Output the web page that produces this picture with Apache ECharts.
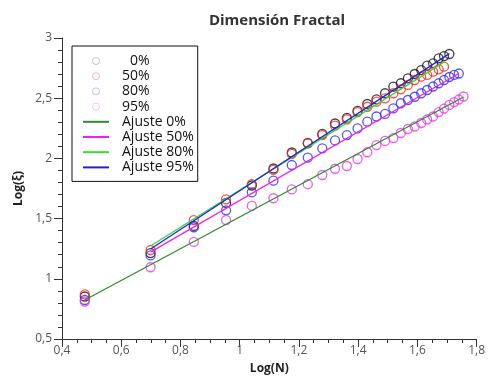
<!DOCTYPE html>
<html>
<head>
<meta charset="utf-8">
<script src="https://cdn.jsdelivr.net/npm/echarts@6/dist/echarts.min.js"></script>
<style>html,body{margin:0;padding:0;background:#fff}#c{width:488px;height:383px}</style>
</head>
<body>
<div id="c"></div>
<script>
// Log(N) positions (N = 3, 5, 7, ... 57)
const logN = [0.477,0.699,0.845,0.954,1.041,1.114,1.176,1.230,1.279,1.322,1.362,1.398,1.431,1.462,1.491,1.519,1.544,1.568,1.591,1.613,1.633,1.653,1.672,1.690,1.708,1.724,1.740,1.756];

// Log(ξ) values per series
const s0  = [0.853,1.214,1.439,1.630,1.775,1.916,2.049,2.128,2.203,2.290,2.336,2.394,2.452,2.491,2.541,2.596,2.624,2.665,2.701,2.734,2.770,2.790,2.831,2.850,2.867];
const s50 = [0.870,1.239,1.488,1.660,1.787,1.904,2.037,2.125,2.194,2.272,2.325,2.385,2.429,2.471,2.499,2.541,2.574,2.610,2.651,2.679,2.693,2.720,2.740,2.762];
const s80 = [0.824,1.194,1.428,1.569,1.717,1.815,1.945,2.007,2.084,2.149,2.194,2.250,2.305,2.348,2.369,2.416,2.458,2.485,2.512,2.541,2.568,2.597,2.624,2.651,2.676,2.693,2.705];
const s95 = [0.811,1.096,1.306,1.488,1.605,1.669,1.742,1.786,1.862,1.914,1.937,1.995,2.051,2.111,2.145,2.169,2.211,2.244,2.265,2.294,2.323,2.348,2.385,2.414,2.444,2.468,2.489,2.514];

// Fit lines (endpoints)
const fitX0  = [0.477, 1.756], fitY0  = [0.824, 2.510];
const fitX50 = [0.699, 1.740], fitY50 = [1.222, 2.705];
const fitX80 = [0.699, 1.690], fitY80 = [1.272, 2.800];
const fitX95 = [0.699, 1.708], fitY95 = [1.2475, 2.870];

// Axis ticks
const xTicks = [0.4,0.6,0.8,1.0,1.2,1.4,1.6,1.8];
const yTicks = [0.5,1.0,1.5,2.0,2.5,3.0];

const names = ['0%','50%','80%','95%','Ajuste 0%','Ajuste 50%','Ajuste 80%','Ajuste 95%'];
const legendPale = ['#b4b4b4','#f0aaaa','#b0b0d8','#f0b4f0'];

function pts(xs, ys){ return ys.map((v,i)=>[xs[i], v]); }
function fmt(v){ return String(+v.toFixed(1)).replace('.', ','); }

const FONT = "'Open Sans', 'Noto Sans', sans-serif";

function scat(name, vals, color){
  return {
    name, type:'scatter', data: pts(logN, vals), symbol:'circle', symbolSize: 9,
    itemStyle:{color:'rgba(255,255,255,0)', borderColor: color, borderWidth: 1.3},
    emphasis:{disabled:true}, z: 2
  };
}
function fit(name, xs, ys, color){
  return {
    name, type:'line', data: pts(xs, ys), symbol:'none', showSymbol:false, smooth:false,
    lineStyle:{color, width:1.3}, itemStyle:{color}, emphasis:{disabled:true}, z: 3
  };
}

const chart = echarts.init(document.getElementById('c'), null, {renderer:'canvas'});
chart.setOption({
  animation:false,
  backgroundColor:'#fff',
  title:{
    text:'Dimensión Fractal', left: 272, top: 8, textAlign:'center',
    textStyle:{fontFamily:FONT, fontSize:15, fontWeight:'bold', color:'#333'}
  },
  legend:{
    orient:'vertical', left:72, top:46,
    padding:[8,4,7,10],
    itemWidth:26, itemHeight:7, itemGap:1.2,
    borderColor:'#111', borderWidth:1, backgroundColor:'#fff',
    data: names.map((n,i)=> i<4
      ? {name:n, itemStyle:{color:'rgba(255,255,255,0)', borderColor:legendPale[i], borderWidth:1}}
      : {name:n, itemStyle:{opacity:0}}),
    formatter: n => n === '0%' ? '\u20070%' : n,
    textStyle:{fontFamily:FONT, fontSize:14, color:'#111', padding:[0,0,0,8]},
    selectedMode:false
  },
  grid:{left:62, right:7, top:38, bottom:44, containLabel:false},
  xAxis:{
    type:'value', min:0.4, max:1.8, interval:0.2,
    name:'Log(N)', nameLocation:'middle', nameGap:24,
    nameTextStyle:{fontFamily:FONT, fontSize:12, fontWeight:'bold', color:'#222'},
    axisLine:{show:true, onZero:false, lineStyle:{color:'#333', width:1}},
    axisTick:{show:true, length:8, lineStyle:{color:'#333'}},
    minorTick:{show:true, splitNumber:4, length:4, lineStyle:{color:'#333'}},
    splitLine:{show:false},
    axisLabel:{fontFamily:FONT, fontSize:12, color:'#555', margin:6, formatter: v => fmt(v)}
  },
  yAxis:{
    type:'value', min:0.5, max:3, interval:0.5,
    name:'Log(ξ)', nameLocation:'middle', nameGap:35, nameRotate:90,
    nameTextStyle:{fontFamily:FONT, fontSize:12, fontWeight:'bold', color:'#222'},
    axisLine:{show:true, onZero:false, lineStyle:{color:'#333', width:1}},
    axisTick:{show:true, length:8, lineStyle:{color:'#333'}},
    minorTick:{show:true, splitNumber:5, length:4, lineStyle:{color:'#333'}},
    splitLine:{show:false},
    axisLabel:{fontFamily:FONT, fontSize:12, color:'#555', margin:10, formatter: v => fmt(v)}
  },
  series:[
    scat('0%', s0, '#111111'),
    scat('50%', s50, '#ff2020'),
    scat('80%', s80, '#2a2aff'),
    scat('95%', s95, '#ee33ee'),
    fit('Ajuste 0%', fitX0, fitY0, '#2e8b2e'),
    fit('Ajuste 50%', fitX50, fitY50, '#ee22ee'),
    fit('Ajuste 80%', fitX80, fitY80, '#33dd33'),
    fit('Ajuste 95%', fitX95, fitY95, '#2222dd')
  ]
});
</script>
</body>
</html>
